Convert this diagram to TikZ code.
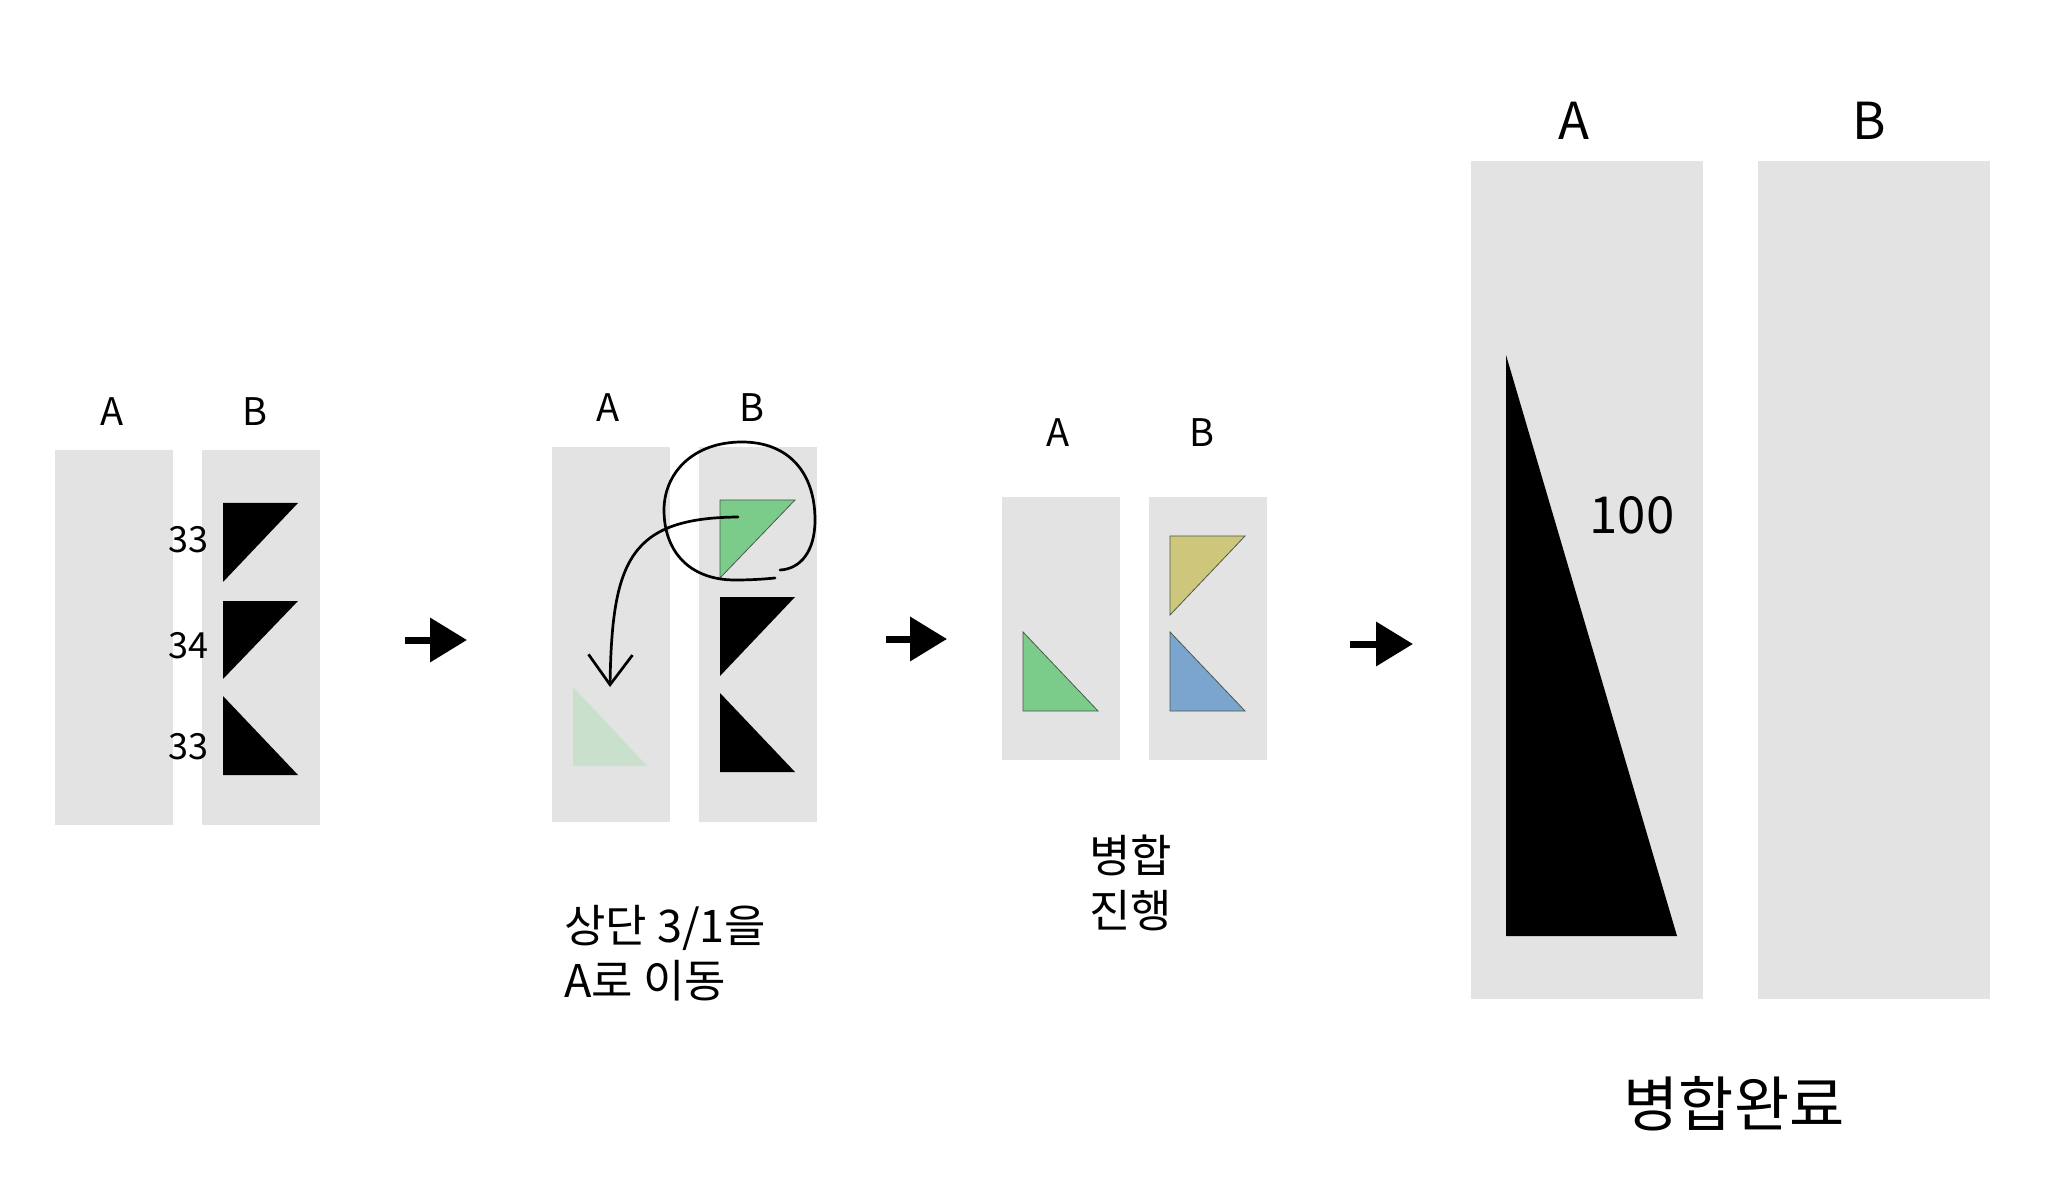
\documentclass[tikz,border=0pt]{standalone}
\usepackage{fontspec}
\setmainfont{Noto Sans CJK KR}
\usetikzlibrary{arrows.meta}
\definecolor{colgray}{HTML}{E3E3E3}
\definecolor{trigreen}{HTML}{7BCB8A}
\definecolor{trifade}{HTML}{C8E0CC}
\definecolor{triyellow}{HTML}{CDC67B}
\definecolor{triblue}{HTML}{7BA5CE}
\definecolor{edgedark}{HTML}{4A5A4A}
\tikzset{
  colbox/.style={fill=colgray, draw=none, inner sep=0pt, minimum width=59pt},
  lbl/.style={inner sep=0pt, font=\fontsize{19pt}{22pt}\selectfont},
  biglbl/.style={inner sep=0pt, font=\fontsize{25.5pt}{30pt}\selectfont},
  numlbl/.style={inner sep=0pt, font=\fontsize{18pt}{21pt}\selectfont},
  caption/.style={inner sep=0pt, align=left, font=\fontsize{22.5pt}{27.5pt}\selectfont},
  bigarrow/.style={line width=3.5pt, -{Triangle[length=18.5pt,width=21.5pt]}},
  pen/.style={line width=1.35pt, line cap=round, line join=round},
  coltri/.style={draw=edgedark, line width=0.4pt}
}
\begin{document}
\begin{tikzpicture}[x=0.5pt, y=-0.5pt]
\useasboundingbox (0,0) rectangle (2048,1202);

% ---------- panel 1 ----------
\node[colbox, minimum height=187.5pt] (p1A) at (114,637.5) {};
\node[colbox, minimum height=187.5pt] (p1B) at (261,637.5) {};
\node[lbl] (p1Al) at (112,412) {A};
\node[lbl] (p1Bl) at (255,412) {B};
\fill (223,503) -- (298,503) -- (223,582) -- cycle;
\fill (223,601) -- (298,601) -- (223,679) -- cycle;
\fill (223,696) -- (223,775) -- (298,775) -- cycle;
\node[numlbl, anchor=east] (n1) at (209,540) {33};
\node[numlbl, anchor=east] (n2) at (209,646) {34};
\node[numlbl, anchor=east] (n3) at (209,747) {33};

% arrow 1
\coordinate (a1s) at (405,640);
\coordinate (a1e) at (467,640);
\draw[bigarrow] (a1s) -- (a1e);

% ---------- panel 2 ----------
\node[colbox, minimum height=187.5pt] (p2A) at (611,634.5) {};
\node[colbox, minimum height=187.5pt] (p2B) at (757.5,634.5) {};
\node[lbl] (p2Al) at (608,408) {A};
\node[lbl] (p2Bl) at (752,408) {B};
\fill[trifade] (573,687) -- (573,766) -- (647,766) -- cycle;
\filldraw[fill=trigreen, coltri] (720,500) -- (795,500) -- (720,578) -- cycle;
\fill (720,597) -- (795,597) -- (720,676) -- cycle;
\fill (720,693) -- (720,772) -- (795,772) -- cycle;
% hand-drawn loop
\draw[pen] (780,570) .. controls (800,569) and (815,552) .. (815,520)
  .. controls (815,472) and (788,442) .. (742,442)
  .. controls (692,442) and (664,474) .. (664,510)
  .. controls (664,552) and (690,580) .. (735,580)
  .. controls (752,580) and (765,579) .. (775,578);
% curved move arrow
\coordinate (mvs) at (738,517);
\coordinate (mve) at (610,687);
\draw[pen, -{Straight Barb[length=15pt,width=22pt,line width=1.35pt]}]
  (mvs) .. controls (630,518) and (612,560) .. (mve);

% arrow 2
\coordinate (a2s) at (886,639);
\coordinate (a2e) at (947,639);
\draw[bigarrow] (a2s) -- (a2e);

\node[caption, anchor=west] (cap2) at (564,953) {상단 3/1을\\A로 이동};

% ---------- panel 3 ----------
\node[colbox, minimum height=131.5pt] (p3A) at (1061,628.5) {};
\node[colbox, minimum height=131.5pt] (p3B) at (1207.5,628.5) {};
\node[lbl] (p3Al) at (1058,433) {A};
\node[lbl] (p3Bl) at (1202,433) {B};
\filldraw[fill=trigreen, coltri] (1023,632) -- (1023,711) -- (1098,711) -- cycle;
\filldraw[fill=triyellow, coltri] (1170,536) -- (1245,536) -- (1170,615) -- cycle;
\filldraw[fill=triblue, coltri] (1170,632) -- (1170,711) -- (1245,711) -- cycle;
\node[caption, anchor=west] (cap3) at (1089,883) {병합\\진행};

% arrow 3
\coordinate (a3s) at (1350,644);
\coordinate (a3e) at (1413,644);
\draw[bigarrow] (a3s) -- (a3e);

% ---------- panel 4 ----------
\node[colbox, minimum width=116pt, minimum height=419pt] (p4A) at (1587,580) {};
\node[colbox, minimum width=116pt, minimum height=419pt] (p4B) at (1874,580) {};
\node[biglbl] (p4Al) at (1574,121) {A};
\node[biglbl] (p4Bl) at (1869,121) {B};
\fill (1506,355) -- (1506,936) -- (1677,936) -- cycle;
\node[biglbl] (n100) at (1632,515) {100};
\node[inner sep=0pt, font=\fontsize{30pt}{36pt}\selectfont] (cap4) at (1734,1104) {병합완료};
\end{tikzpicture}
\end{document}
